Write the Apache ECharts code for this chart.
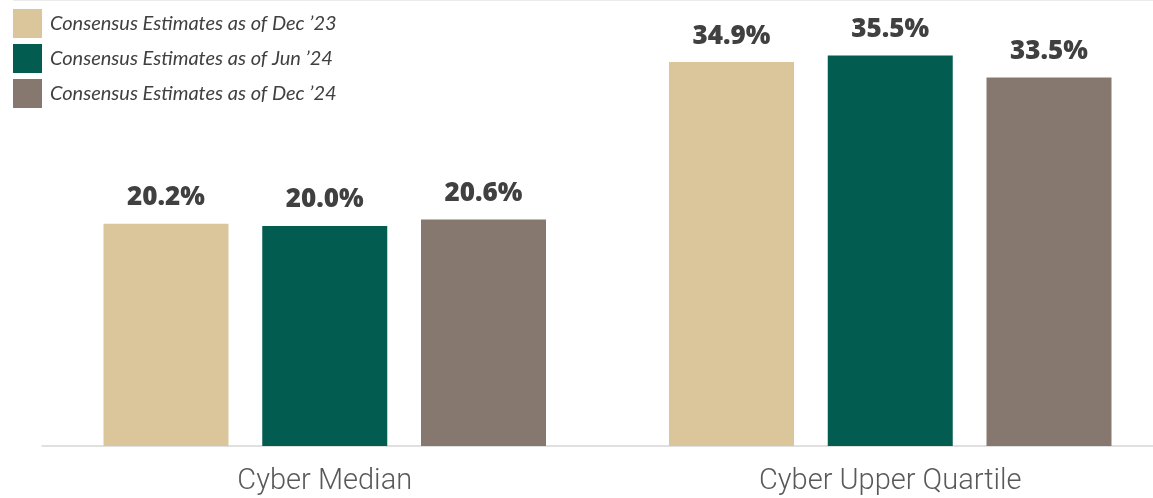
<!DOCTYPE html>
<html>
<head>
<meta charset="utf-8">
<script src="https://cdn.jsdelivr.net/npm/echarts@6/dist/echarts.min.js"></script>
<style>
  html, body { margin: 0; padding: 0; background: #ffffff; }
  #chart { width: 1153px; height: 498px; }
</style>
</head>
<body>
<div id="chart"></div>
<script>
// Categories on the x axis
const categories = ['Cyber Median', 'Cyber Upper Quartile'];

// Series names (one per estimate snapshot)
const seriesNames = [
  'Consensus Estimates as of Dec \u201923',
  'Consensus Estimates as of Jun \u201924',
  'Consensus Estimates as of Dec \u201924'
];

// Values in percent, per series, in category order
const dec23 = [20.2, 34.9];
const jun24 = [20.0, 35.5];
const dec24 = [20.6, 33.5];

const seriesValues = [dec23, jun24, dec24];
const seriesColors = ['#DBC69B', '#025D50', '#86786E'];

const chart = echarts.init(document.getElementById('chart'), null, { renderer: 'canvas' });

const series = seriesNames.map((name, i) => ({
  name: name,
  type: 'bar',
  data: seriesValues[i],
  barWidth: 125,
  barGap: '27%',
  itemStyle: { color: seriesColors[i] },
  label: {
    show: true,
    position: 'top',
    distance: 13,
    formatter: p => p.value.toFixed(1) + '%',
    fontFamily: 'Open Sans',
    fontWeight: 800,
    fontSize: 26,
    color: '#404040'
  }
}));

chart.setOption({
  animation: false,
  backgroundColor: '#ffffff',
  // the plot runs a little past the right edge of the page
  grid: { left: 42, top: 6, right: -20, bottom: 52, containLabel: false, outerBoundsMode: 'none' },
  legend: {
    orient: 'vertical',
    left: 8,
    top: 4,
    itemWidth: 29,
    itemHeight: 29,
    itemGap: 6,
    icon: 'rect',
    data: seriesNames,
    textStyle: {
      fontFamily: 'Lato',
      fontStyle: 'italic',
      fontSize: 20,
      color: '#404040',
      padding: [0, 0, 0, 3]
    }
  },
  xAxis: {
    type: 'category',
    data: categories,
    axisLine: { show: true, lineStyle: { color: '#d6d6d6', width: 1.5 } },
    axisTick: { show: false },
    axisLabel: {
      margin: 21,
      fontFamily: 'Roboto',
      fontWeight: 300,
      fontSize: 29,
      color: '#595959'
    }
  },
  yAxis: {
    type: 'value',
    min: 0,
    max: 40,
    show: false,
    splitLine: { show: false }
  },
  graphic: [{
    type: 'line',
    shape: { x1: 13, y1: 0.5, x2: 1153, y2: 0.5 },
    style: { stroke: '#ececec', lineWidth: 1 }
  }],
  series: series
});
</script>
</body>
</html>
